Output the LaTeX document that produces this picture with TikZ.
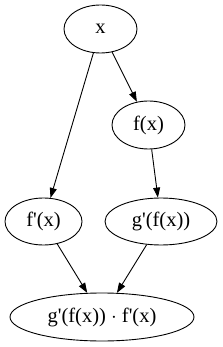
\documentclass[tikz,border=0pt]{standalone}
\usepackage{fontspec}
\setmainfont{Liberation Serif}
\usetikzlibrary{shapes.geometric,arrows.meta}
\newcommand{\qs}{\textquotesingle}
\begin{document}
\begin{tikzpicture}[x=1pt,y=-1pt,
  nd/.style={draw, ellipse, line width=0.9pt, inner sep=0pt, minimum height=48pt,
    font=\fontsize{20.5}{24}\selectfont},
  ed/.style={draw, line width=0.9pt, -{Triangle[length=10pt,width=7pt]}}]
\useasboundingbox (0,0) rectangle (222,347);
\node[nd, minimum width=73pt] (x) at (100.5,29) {x};
\node[nd, minimum width=73pt] (f) at (148.5,125) {f(x)};
\node[nd, minimum width=77pt, minimum height=47pt] (fp) at (43.5,221.5) {f\qs(x)};
\node[nd, minimum width=112pt, minimum height=47pt] (gp) at (161,221.5) {g\qs(f(x))};
\node[nd, minimum width=184pt] (p) at (102,317) {g\qs(f(x)) $\cdot$ f\qs(x)};
\draw[ed] (x) -- (fp);
\draw[ed] (x) -- (f);
\draw[ed] (f) -- (gp);
\draw[ed] (fp) -- (p);
\draw[ed] (gp) -- (p);
\end{tikzpicture}
\end{document}
